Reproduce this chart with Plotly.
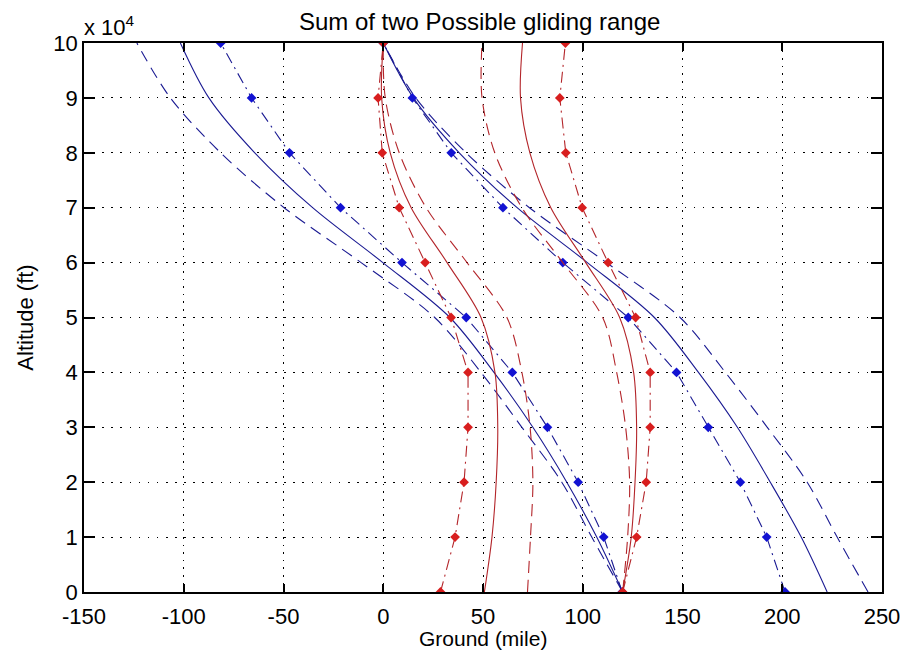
import plotly.graph_objects as go

# Altitude samples (ft), shared by every curve
altitude_ft = [0, 10000, 20000, 30000, 40000, 50000, 60000, 70000, 80000, 90000, 100000]

# Axis ticks
x_ticks = [-150, -100, -50, 0, 50, 100, 150, 200, 250]
y_ticks = [0, 10000, 20000, 30000, 40000, 50000, 60000, 70000, 80000, 90000, 100000]
y_tick_text = ["0", "1", "2", "3", "4", "5", "6", "7", "8", "9", "10"]

# Blue: glide that starts over x = 0 at 100,000 ft (ground position in miles)
blue_start_solid = [222.5, 209.5, 194.0, 177.5, 158.0, 135.9, 102.3, 67.1, 38.1, 15.1, 0.0]
blue_start_dashed = [243.0, 227.5, 212.5, 192.5, 171.5, 148.8, 111.9, 73.3, 41.5, 16.3, 0.0]
blue_start_dashdot = [201.4, 192.2, 179.0, 162.9, 147.0, 122.8, 90.0, 60.0, 34.1, 14.6, 0.0]

# Blue: glide that ends on the ground at x = 120
blue_end_solid = [120.0, 107.0, 92.0, 75.0, 55.5, 33.4, -0.2, -35.4, -64.4, -87.4, -101.7]
blue_end_dashed = [120.0, 104.5, 89.5, 69.5, 49.0, 25.8, -11.1, -49.7, -81.5, -106.7, -123.5]
blue_end_dashdot = [119.8, 110.5, 97.7, 82.3, 64.7, 41.6, 9.4, -21.4, -47.0, -66.0, -81.5]

# Red: opposite-heading glide starting over x = 0 at 100,000 ft
red_start_solid = [50.7, 54.5, 56.6, 57.4, 56.0, 49.0, 32.0, 14.0, 3.5, -0.8, 0.0]
red_start_dashed = [72.3, 73.8, 75.0, 73.6, 69.5, 62.0, 42.0, 21.5, 8.0, 1.0, 0.0]
red_start_dashdot = [28.7, 36.0, 40.5, 42.5, 42.5, 34.0, 21.0, 8.0, -0.5, -2.6, 0.0]

# Red: opposite-heading glide ending on the ground at x = 120
red_end_solid = [120.0, 124.3, 126.2, 127.0, 125.5, 118.5, 101.5, 84.0, 73.5, 68.8, 69.8]
red_end_dashed = [120.0, 122.5, 123.5, 121.5, 117.0, 110.0, 90.0, 69.5, 55.9, 49.5, 49.5]
red_end_dashdot = [120.0, 127.0, 131.8, 133.8, 133.8, 126.5, 112.7, 99.7, 91.5, 88.5, 91.3]

BLUE_LINE = "#1a1a92"
BLUE_MARK = "#1212d2"
RED_LINE = "#b3252a"
RED_MARK = "#d81e1e"

DASH = "12px,7px"
DASHDOT = "11px,5px,2px,5px"

fig = go.Figure()


def add_curve(xs, color, dash, marker_color=None):
    smooth = marker_color is None
    fig.add_trace(go.Scatter(
        x=xs,
        y=altitude_ft,
        mode="lines+markers" if marker_color else "lines",
        line=dict(color=color, width=1.1, dash=dash,
                  shape="spline" if smooth else "linear",
                  smoothing=0.9 if smooth else None),
        marker=dict(symbol="diamond", size=7.5, color=marker_color) if marker_color else None,
        showlegend=False,
        hoverinfo="skip",
    ))


for xs, dash, mk in [
    (blue_end_solid, "solid", None),
    (blue_end_dashed, DASH, None),
    (blue_end_dashdot, DASHDOT, BLUE_MARK),
    (blue_start_solid, "solid", None),
    (blue_start_dashed, DASH, None),
    (blue_start_dashdot, DASHDOT, BLUE_MARK),
]:
    add_curve(xs, BLUE_LINE, dash, mk)

for xs, dash, mk in [
    (red_start_solid, "solid", None),
    (red_start_dashed, DASH, None),
    (red_start_dashdot, DASHDOT, RED_MARK),
    (red_end_solid, "solid", None),
    (red_end_dashed, DASH, None),
    (red_end_dashdot, DASHDOT, RED_MARK),
]:
    add_curve(xs, RED_LINE, dash, mk)

FONT = "Liberation Sans, Arial, sans-serif"

fig.update_layout(
    width=905,
    height=654,
    margin=dict(l=84, r=23, t=43, b=62),
    paper_bgcolor="white",
    plot_bgcolor="white",
    font=dict(family=FONT, size=22, color="black"),
    title=dict(
        text="Sum of two Possible gliding range",
        x=0.53, xanchor="center",
        y=1 - 22 / 654, yanchor="middle",
        font=dict(family=FONT, size=24, color="black"),
    ),
    xaxis=dict(
        range=[-150, 250],
        automargin=False,
        tickvals=x_ticks,
        ticktext=[str(v) for v in x_ticks],
        ticks="inside", ticklen=8, tickwidth=1.5, tickcolor="black",
        ticklabelstandoff=4,
        showline=True, linecolor="black", linewidth=1.5, mirror="allticks",
        showgrid=True, gridcolor="black", gridwidth=1.3, griddash="1.6px,6px",
        zeroline=False,
        tickfont=dict(size=22),
    ),
    yaxis=dict(
        range=[0, 100000],
        automargin=False,
        tickvals=y_ticks,
        ticktext=y_tick_text,
        ticks="inside", ticklen=11, tickwidth=1.5, tickcolor="black",
        showline=True, linecolor="black", linewidth=1.5, mirror="allticks",
        showgrid=True, gridcolor="black", gridwidth=1.3, griddash="1.6px,7.5px",
        zeroline=False,
        title=dict(text="Altitude (ft)", standoff=14, font=dict(size=22)),
        tickfont=dict(size=22),
    ),
    annotations=[
        dict(
            text="x 10<sup>4</sup>",
            xref="paper", yref="paper",
            x=0, y=1, xanchor="left", yanchor="bottom",
            xshift=-2, yshift=1, showarrow=False,
            font=dict(family=FONT, size=22, color="black"),
        ),
        dict(
            text="Ground (mile)",
            xref="paper", yref="paper",
            x=0.5, y=0, xanchor="center", yanchor="top",
            yshift=-33, showarrow=False,
            font=dict(family=FONT, size=21, color="black"),
        ),
    ],
)

fig.write_html("out.html")
